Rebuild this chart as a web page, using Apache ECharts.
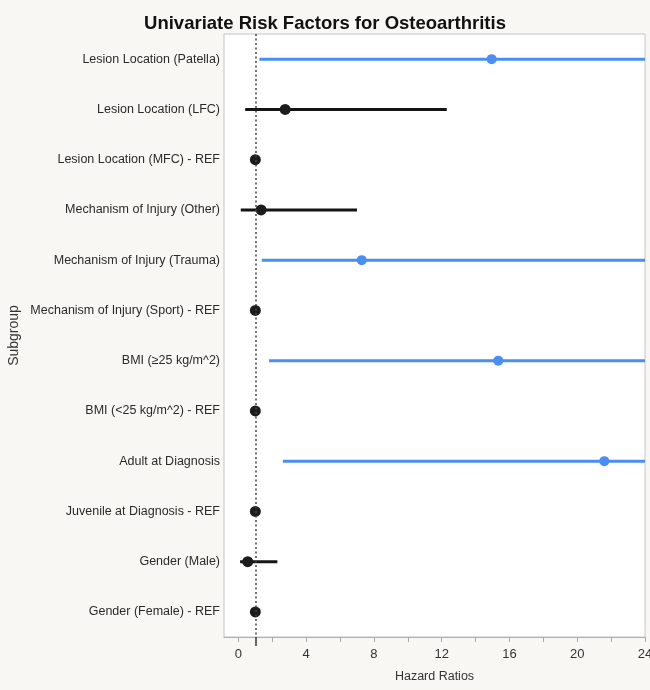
<!DOCTYPE html>
<html>
<head>
<meta charset="utf-8">
<script src="https://cdn.jsdelivr.net/npm/echarts@6/dist/echarts.min.js"></script>
<style>
html,body{margin:0;padding:0;background:#f8f7f4;}
#c{width:650px;height:690px;}
</style>
</head>
<body>
<div id="c"></div>
<script>
// Subgroups, top to bottom
const categories = [
  "Lesion Location (Patella)",
  "Lesion Location (LFC)",
  "Lesion Location (MFC) - REF",
  "Mechanism of Injury (Other)",
  "Mechanism of Injury (Trauma)",
  "Mechanism of Injury (Sport) - REF",
  "BMI (\u226525 kg/m^2)",
  "BMI (<25 kg/m^2) - REF",
  "Adult at Diagnosis",
  "Juvenile at Diagnosis - REF",
  "Gender (Male)",
  "Gender (Female) - REF"
];
// Hazard ratio point estimates
const hazardRatio = [14.95, 2.76, 1, 1.34, 7.28, 1, 15.34, 1, 21.6, 1, 0.55, 1];
// Lower CI bounds (null = reference group, no interval)
const lowerCI = [1.24, 0.4, null, 0.14, 1.38, null, 1.81, null, 2.62, null, 0.1, null];
// Upper CI bounds (values beyond 24 run off the right edge of the plot)
const upperCI = [40, 12.3, null, 7.0, 40, null, 40, null, 40, null, 2.3, null];
// Significant rows are highlighted in blue
const significant = [true, false, false, false, true, false, true, false, true, false, false, false];
const xTickValues = [0, 2, 4, 6, 8, 10, 12, 14, 16, 18, 20, 22, 24];
const xLabelValues = [0, 4, 8, 12, 16, 20, 24];
const referenceValue = 1;

const BLUE = '#4a8ef2';
const BLACK = '#141414';
const FONT = "'Liberation Sans', Arial, sans-serif";

const ciData = [];
const ptData = [];
categories.forEach((c, i) => {
  if (lowerCI[i] != null) ciData.push({ value: [lowerCI[i], upperCI[i], i], sig: significant[i] });
  ptData.push({
    value: [hazardRatio[i], i],
    symbolSize: significant[i] ? 10 : 11,
    itemStyle: { color: significant[i] ? BLUE : '#1c1c1c', opacity: 1 }
  });
});

const chart = echarts.init(document.getElementById('c'), null, { renderer: 'canvas' });
chart.setOption({
  backgroundColor: '#f8f7f4',
  animation: false,
  title: {
    text: 'Univariate Risk Factors for Osteoarthritis',
    left: 'center', top: 9,
    textStyle: { fontFamily: FONT, fontWeight: 'bold', fontSize: 18.5, color: '#111' }
  },
  grid: {
    left: 224, right: 5, top: 34, bottom: 53,
    outerBoundsMode: 'none',
    show: true, backgroundColor: '#ffffff', borderColor: '#c4c4c4', borderWidth: 1
  },
  xAxis: [{
    type: 'value', min: -0.85, max: 24,
    name: 'Hazard Ratios', nameLocation: 'middle', nameGap: 33,
    nameTextStyle: { fontFamily: FONT, fontSize: 12.5, color: '#333' },
    axisLine: { show: true, lineStyle: { color: '#b0b0b0' } },
    axisTick: { show: true, customValues: xTickValues, length: 5, lineStyle: { color: '#aaa' } },
    axisLabel: { customValues: xLabelValues, fontFamily: FONT, fontSize: 13, color: '#333', margin: 11 },
    splitLine: { show: false }
  }, {
    type: 'value', min: -0.85, max: 24, position: 'bottom', offset: 0,
    axisLine: { show: false },
    axisTick: { show: true, customValues: [referenceValue], length: 9, lineStyle: { color: '#333', width: 1.5 } },
    axisLabel: { show: false },
    splitLine: { show: false }
  }],
  yAxis: {
    type: 'category', data: categories, inverse: true, boundaryGap: true,
    name: 'Subgroup', nameLocation: 'middle', nameGap: 203, nameRotate: 90,
    nameMoveOverlap: false,
    nameTextStyle: { fontFamily: FONT, fontSize: 14, color: '#333' },
    axisLine: { show: false }, axisTick: { show: false },
    axisLabel: { fontFamily: FONT, fontSize: 12.5, color: '#2a2a2a', margin: 4 },
    splitLine: { show: false }
  },
  series: [{
    type: 'custom',
    clip: true,
    data: ciData,
    renderItem: function (params, api) {
      const lo = api.coord([api.value(0), api.value(2)]);
      const hi = api.coord([api.value(1), api.value(2)]);
      const item = ciData[params.dataIndex];
      return {
        type: 'line',
        shape: { x1: lo[0], y1: lo[1], x2: hi[0], y2: hi[1] },
        style: { stroke: item.sig ? BLUE : BLACK, lineWidth: 3 }
      };
    },
    encode: { x: [0, 1], y: 2 },
    z: 2
  }, {
    type: 'scatter',
    data: ptData,
    symbol: 'circle',
    z: 3,
    markLine: {
      silent: true, symbol: 'none', label: { show: false },
      lineStyle: { color: '#444', type: [2, 2.5], width: 1.5 },
      data: [{ xAxis: referenceValue }]
    }
  }]
});
</script>
</body>
</html>
